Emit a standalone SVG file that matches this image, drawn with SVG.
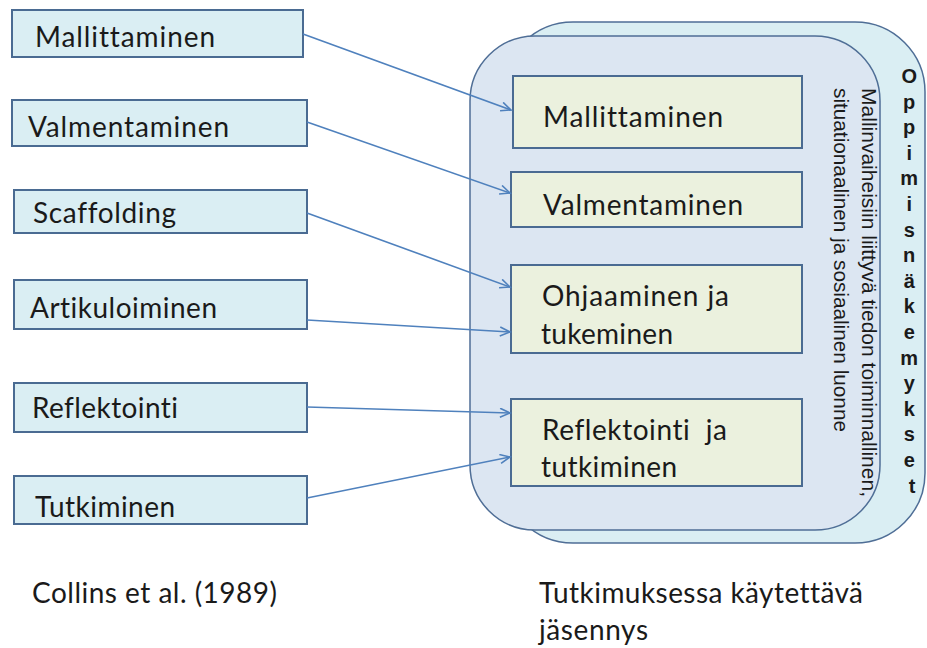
<svg xmlns="http://www.w3.org/2000/svg" width="927" height="648" viewBox="0 0 927 648">
  <style>
    .lbox { fill: #DAEEF3; stroke: #4A6B92; stroke-width: 2; }
    .ibox { fill: #EBF1DE; stroke: #4A6B92; stroke-width: 2; }
    .lbl { font-family: Lato, "Open Sans", sans-serif; font-size: 28px; fill: #1A1A1A; font-variant-ligatures: none; font-feature-settings: "liga" 0, "clig" 0; }
    .conn { stroke: #4F81BD; stroke-width: 1.6; fill: none; marker-end: url(#arr); }
    .vert { font-family: "Liberation Sans", Arial, sans-serif; font-size: 20px; fill: #1A1A1A; }
    .stack { font-family: "Liberation Sans", Arial, sans-serif; font-size: 20px; font-weight: bold; fill: #1A1A1A; }
  </style>
  <defs>
    <marker id="arr" markerUnits="userSpaceOnUse" markerWidth="14" markerHeight="12" refX="11" refY="5" orient="auto">
      <path d="M1,0.5 L11,5 L1,9.5" fill="none" stroke="#4F81BD" stroke-width="1.6"/>
    </marker>
  </defs>

  <rect width="927" height="648" fill="#FFFFFF"/>

  <!-- outer frame: learning views -->
  <g id="oppimisnakemykset">
    <rect x="503" y="22" width="422" height="521" rx="70" ry="70" fill="#DAEEF3" stroke="#4F6E96" stroke-width="1.5"/>
    <text class="stack" text-anchor="middle">
      <tspan x="912" y="83">O</tspan>
      <tspan x="912" dy="25.6">p</tspan>
      <tspan x="912" dy="25.6">p</tspan>
      <tspan x="912" dy="25.6">i</tspan>
      <tspan x="912" dy="25.6">m</tspan>
      <tspan x="912" dy="25.6">i</tspan>
      <tspan x="912" dy="25.6">s</tspan>
      <tspan x="912" dy="25.6">n</tspan>
      <tspan x="912" dy="25.6">ä</tspan>
      <tspan x="912" dy="25.6">k</tspan>
      <tspan x="912" dy="25.6">e</tspan>
      <tspan x="912" dy="25.6">m</tspan>
      <tspan x="912" dy="25.6">y</tspan>
      <tspan x="912" dy="25.6">k</tspan>
      <tspan x="912" dy="25.6">s</tspan>
      <tspan x="912" dy="25.6">e</tspan>
      <tspan x="912" dy="25.6">t</tspan>
    </text>
  </g>

  <!-- inner frame: nature of knowledge -->
  <g id="tiedon-luonne">
    <rect x="470" y="36" width="410" height="494" rx="65" ry="65" fill="#DCE6F2" stroke="#4F6E96" stroke-width="1.5"/>
    <g transform="translate(862,88) rotate(90)">
      <text class="vert" x="0" y="0" textLength="409" lengthAdjust="spacingAndGlyphs">Mallinvaiheisiin liittyvä tiedon toiminnallinen,</text>
      <text class="vert" x="0" y="28" textLength="344" lengthAdjust="spacingAndGlyphs">situationaalinen ja sosiaalinen luonne</text>
    </g>
  </g>

  <!-- Collins et al. categories -->
  <g id="l-mallittaminen">
    <rect class="lbox" x="12" y="10" width="291" height="47"/>
    <text class="lbl" x="35" y="47" textLength="180">Mallittaminen</text>
  </g>
  <g id="l-valmentaminen">
    <rect class="lbox" x="12" y="100" width="295" height="46"/>
    <text class="lbl" x="28" y="137" textLength="201">Valmentaminen</text>
  </g>
  <g id="l-scaffolding">
    <rect class="lbox" x="14" y="190" width="293" height="43"/>
    <text class="lbl" x="33" y="223" textLength="143">Scaffolding</text>
  </g>
  <g id="l-artikuloiminen">
    <rect class="lbox" x="14" y="280" width="293" height="49"/>
    <text class="lbl" x="30" y="318" textLength="187">Artikuloiminen</text>
  </g>
  <g id="l-reflektointi">
    <rect class="lbox" x="14" y="383" width="293" height="49"/>
    <text class="lbl" x="32" y="418" textLength="146">Reflektointi</text>
  </g>
  <g id="l-tutkiminen">
    <rect class="lbox" x="14" y="476" width="293" height="48"/>
    <text class="lbl" x="35" y="517" textLength="140">Tutkiminen</text>
  </g>

  <!-- categories used in the study -->
  <g id="r-mallittaminen">
    <rect class="ibox" x="513" y="76" width="289" height="72"/>
    <text class="lbl" x="543" y="127" textLength="180">Mallittaminen</text>
  </g>
  <g id="r-valmentaminen">
    <rect class="ibox" x="511" y="172" width="291" height="55"/>
    <text class="lbl" x="543" y="215" textLength="200">Valmentaminen</text>
  </g>
  <g id="r-ohjaaminen">
    <rect class="ibox" x="511" y="265" width="291" height="88"/>
    <text class="lbl" x="542" y="306" textLength="187">Ohjaaminen ja</text>
    <text class="lbl" x="541" y="344" textLength="132">tukeminen</text>
  </g>
  <g id="r-reflektointi">
    <rect class="ibox" x="511" y="399" width="291" height="87"/>
    <text class="lbl" x="542" y="440" textLength="185" xml:space="preserve">Reflektointi  ja</text>
    <text class="lbl" x="541" y="477" textLength="136">tutkiminen</text>
  </g>

  <!-- connectors -->
  <g id="connectors">
    <line class="conn" x1="303" y1="34" x2="511" y2="110"/>
    <line class="conn" x1="307" y1="122" x2="510" y2="193"/>
    <line class="conn" x1="307" y1="213" x2="510" y2="287"/>
    <line class="conn" x1="307" y1="320" x2="510" y2="332"/>
    <line class="conn" x1="307" y1="407" x2="510" y2="413"/>
    <line class="conn" x1="307" y1="498" x2="510" y2="457"/>
  </g>

  <!-- captions -->
  <g id="captions">
    <text class="lbl" x="32" y="603" textLength="245">Collins et al. (1989)</text>
    <text class="lbl" x="539" y="603" textLength="324">Tutkimuksessa käytettävä</text>
    <text class="lbl" x="539" y="640" textLength="109">jäsennys</text>
  </g>
</svg>
